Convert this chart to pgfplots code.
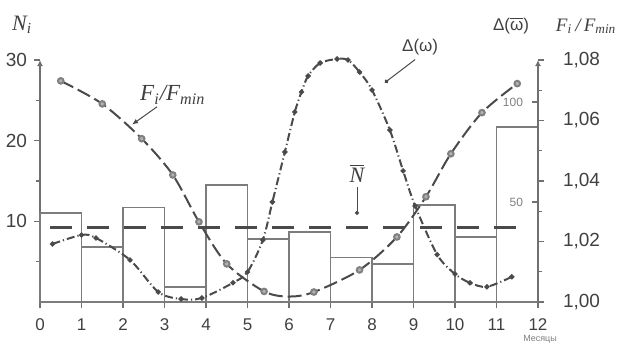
\documentclass[border=0pt]{standalone}
\usepackage{fontspec}
\setmainfont{Liberation Sans}
\newfontfamily\serif{Liberation Serif}
\usepackage{pgfplots}
\pgfplotsset{compat=1.18}
\usetikzlibrary{arrows.meta}

\definecolor{axisgray}{HTML}{707070}
\definecolor{bargray}{HTML}{7C7C7C}
\definecolor{curvegray}{HTML}{4A4A4A}
\definecolor{textgray}{HTML}{404040}

\pgfplotsset{
  base/.style={
    at={(20pt,21pt)}, anchor=south west,
    width=249pt, height=121pt, scale only axis,
    xmin=0, xmax=12, clip=false,
    /pgf/number format/assume math mode=true,
    major tick length=3pt, minor tick length=2pt,
    every tick/.style={draw=axisgray, line width=0.7pt},
  },
}

\begin{document}
\begin{tikzpicture}
\useasboundingbox (0,0) rectangle (309pt,172pt);

% N_i histogram and mean
\begin{axis}[base,
  ymin=0, ymax=30,
  axis x line=bottom, axis y line=left,
  x axis line style={-, draw=axisgray, line width=1pt},
  y axis line style={-{Latex[length=3pt,width=3pt]}, draw=axisgray, line width=1pt},
  tick align=outside,
  xtick={0,...,12},
  ytick={10,20,30}, minor ytick={5,15,25},
  xticklabel style={font=\fontsize{8.5}{10}\selectfont, text=textgray, yshift=-2pt},
  yticklabel style={font=\fontsize{9.5}{11}\selectfont, text=textgray},
]
\addplot[ybar interval, draw=bargray, line width=0.85pt, fill=none] coordinates {
  (0,11) (1,6.8) (2,11.7) (3,1.9) (4,14.5) (5,7.8) (6,8.7)
  (7,5.5) (8,4.7) (9,12) (10,8.1) (11,21.7) (12,21.7)
};
\addplot[draw=curvegray, line width=1.4pt, dash pattern=on 11pt off 7.5pt]
  coordinates {(0.25,9.2) (11.8,9.2)};

\node[text=textgray, font=\serif\itshape\fontsize{11}{12}\selectfont]
  at (axis cs:-0.43,34.4) {N\textsubscript{i}};
\node[text=textgray, font=\fontsize{8.5}{10}\selectfont]
  at (axis cs:11.35,34.3) {Δ($\overline{\mbox{ω}}$)};
\node[text=textgray, font=\serif\itshape\fontsize{9.5}{11}\selectfont]
  at (axis cs:13.16,34.2) {F\textsubscript{i}\,/\,F\textsubscript{min}};

\node[text=textgray, font=\serif\itshape\fontsize{11.5}{12}\selectfont]
  at (axis cs:3.2,25.7) {F\textsubscript{i}/F\textsubscript{min}};
\draw[curvegray, line width=0.5pt, -{Latex[length=3pt,width=2.5pt]}]
  (axis cs:2.82,24.2) -- (axis cs:2.22,22.0);

\node[text=textgray, font=\fontsize{8.5}{10}\selectfont]
  at (axis cs:9.16,31.55) {Δ(ω)};
\draw[curvegray, line width=0.5pt, -{Circle[length=2pt]}]
  (axis cs:9.04,30.06) -- (axis cs:8.31,27.2);

\node[text=textgray, font=\serif\itshape\fontsize{11}{12}\selectfont]
  at (axis cs:7.64,15.9) {$\overline{\mbox{\serif\itshape N}}$};
\draw[curvegray, line width=0.5pt, -{Circle[length=2pt]}]
  (axis cs:7.64,14.2) -- (axis cs:7.64,10.8);

\node[text=gray, font=\fontsize{4.5}{5}\selectfont]
  at (axis cs:12.05,-4.6) {Месяцы};
\end{axis}

% F_i/F_min
\begin{axis}[base,
  ymin=1, ymax=1.08,
  axis x line=none, axis y line=right,
  y axis line style={-{Latex[length=3pt,width=3pt]}, draw=axisgray, line width=1pt},
  tick align=outside,
  ytick={1,1.02,1.04,1.06,1.08}, minor ytick={1.01,1.03,1.05,1.07},
  yticklabel style={font=\fontsize{9.5}{11}\selectfont, text=textgray, xshift=6pt,
    /pgf/number format/.cd, fixed, fixed zerofill, precision=2, use comma},
]
\addplot[smooth, curvegray, line width=1pt, dash pattern=on 7pt off 2.5pt,
  mark=*, mark size=1.4pt, mark options={solid, draw=gray, fill=gray!60},
  mark indices={1,2,3,4,5,6,7,9,10,11,12,13,14,15}] coordinates {
  (0.5,1.0731) (1.5,1.0655) (2.45,1.054) (3.2,1.042) (3.83,1.0265)
  (4.5,1.0126) (5.4,1.0035) (6.0,1.0018) (6.6,1.0033) (7.7,1.0106)
  (8.6,1.0215) (9.3,1.0348) (9.9,1.049) (10.65,1.0626) (11.5,1.0722)
};
\end{axis}

% Delta(omega)
\begin{axis}[base,
  ymin=0, ymax=121,
  axis x line=none, axis y line=right,
  y axis line style={draw=none},
  tick align=inside,
  ytick={50,100},
  yticklabel style={font=\fontsize{6}{7}\selectfont, text=gray, anchor=east, xshift=-4pt},
]
\addplot[smooth, curvegray, line width=1pt,
  dash pattern=on 4pt off 1.5pt on 0.6pt off 1.5pt,
  mark=*, mark size=0.75pt, mark options={solid, fill=curvegray}] coordinates {
  (0.3,29) (1.0,33.5) (1.35,32) (2.17,21) (2.85,5) (3.4,1.5) (3.9,2)
  (4.65,9.6) (5.0,15) (5.37,31) (5.6,50) (5.9,75) (6.14,95) (6.3,105)
  (6.46,113) (6.75,119.5) (7.16,121.5) (7.42,121) (7.7,115) (8.0,106)
  (8.43,86) (8.75,65.6) (9.04,48) (9.57,23.7) (10.0,14) (10.36,9.6)
  (10.77,7.6) (11.37,12.6)
};
\end{axis}
\end{tikzpicture}
\end{document}
